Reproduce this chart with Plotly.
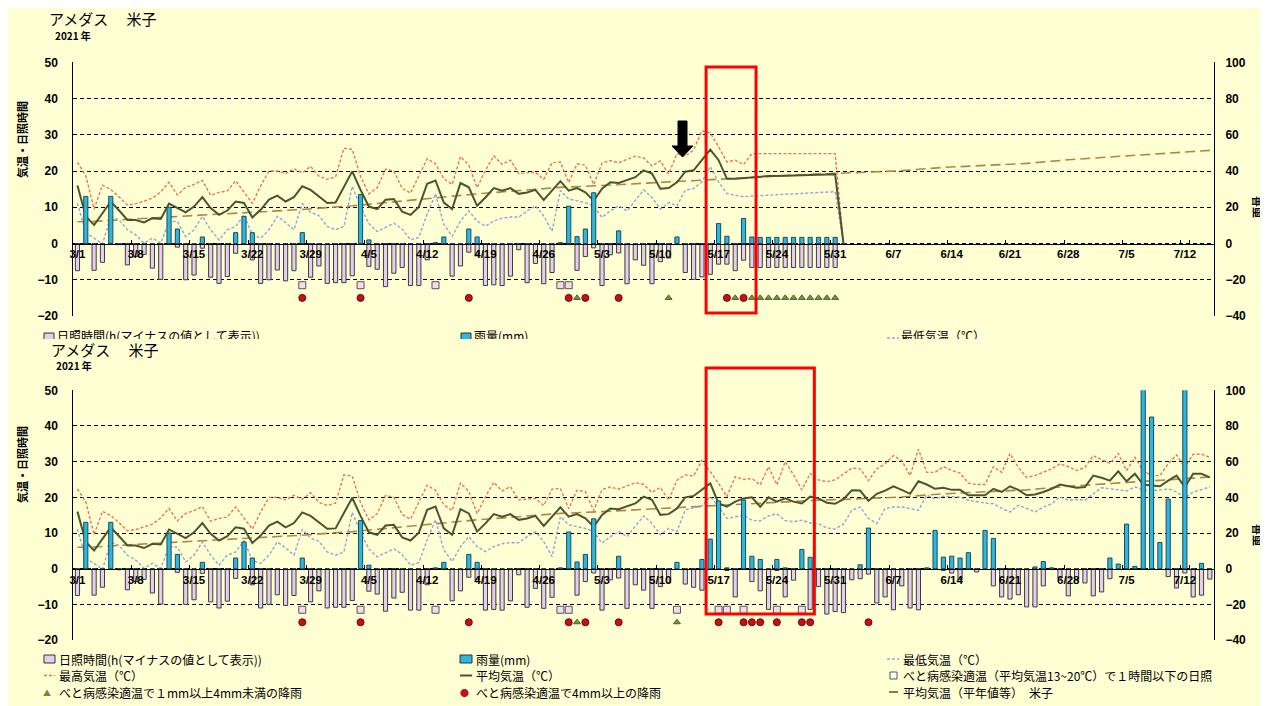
import pandas as pd
import plotly.graph_objects as go

# ---------------- categories ----------------
dates = [f"{d.month}/{d.day}" for d in pd.date_range("2021-03-01", "2021-07-15", freq="D")]
tick_labels = ["3/1", "3/8", "3/15", "3/22", "3/29", "4/5", "4/12", "4/19", "4/26", "5/3",
               "5/10", "5/17", "5/24", "5/31", "6/7", "6/14", "6/21", "6/28", "7/5", "7/12"]

# ---------------- daily data (3/1 - 7/15), bottom chart ----------------
max_temp = [
    # March
    22.4, 18.7, 9.5, 16.1, 14.9, 12.9, 10.6, 11.0, 11.7, 12.5, 14.2, 16.9, 13.4, 15.5, 16.3, 17.4,
    13.3, 14.1, 14.5, 17.3, 14.2, 11.1, 15.9, 20.0, 20.0, 19.3, 20.6, 19.5, 21.3, 18.6, 17.7,
    # April
    18.4, 26.3, 26.0, 18.5, 13.7, 15.4, 20.5, 20.0, 15.2, 13.9, 18.5, 23.4, 22.0, 17.9, 16.3,
    24.0, 21.6, 15.4, 20.2, 24.2, 21.8, 23.0, 19.3, 19.4, 19.7, 17.7, 22.3, 22.5, 16.8, 22.0,
    # May
    21.6, 16.3, 22.2, 22.9, 22.3, 23.2, 24.1, 23.6, 21.4, 22.8, 19.2, 24.8, 26.3, 26.0, 30.3, 27.2,
    23.9, 20.2, 25.8, 25.0, 25.3, 23.5, 28.6, 23.5, 30.0, 26.3, 22.1, 26.7, 24.9, 24.4, 24.9,
    # June
    26.5, 28.2, 28.0, 24.7, 28.0, 29.4, 31.7, 30.3, 26.1, 33.5, 27.0, 27.0, 28.6, 27.5, 26.8,
    24.0, 23.6, 23.6, 28.6, 27.0, 32.3, 28.4, 25.6, 26.1, 27.0, 28.0, 29.4, 28.6, 27.5, 28.4,
    # July
    31.7, 30.7, 29.5, 32.3, 27.5, 31.2, 27.5, 26.1, 26.1, 29.4, 31.9, 28.4, 32.1, 32.1, 31.2,
]
mean_temp = [
    16.0, 7.5, 5.1, 8.4, 11.6, 9.1, 6.5, 6.5, 5.8, 7.0, 6.8, 11.0, 9.8, 8.6, 10.2, 12.8,
    9.8, 7.9, 9.1, 11.6, 11.2, 7.2, 9.3, 12.1, 13.2, 11.6, 12.8, 15.8, 14.8, 13.0, 11.2,
    11.3, 15.8, 19.9, 14.8, 10.2, 9.5, 12.1, 12.3, 8.8, 7.9, 10.1, 16.5, 17.4, 11.3, 9.5,
    16.7, 15.5, 10.4, 12.7, 15.3, 14.6, 15.3, 13.7, 14.1, 14.8, 12.0, 14.6, 17.2, 14.6, 15.3,
    14.1, 11.8, 15.1, 16.9, 16.7, 17.6, 18.3, 20.2, 19.3, 15.1, 15.3, 16.9, 20.0, 20.4, 22.2, 23.9,
    18.3, 17.4, 18.8, 19.7, 20.0, 17.4, 20.0, 18.8, 19.7, 18.8, 18.3, 20.2, 19.7, 18.5, 18.2,
    19.5, 22.0, 21.9, 19.0, 21.0, 21.9, 23.1, 22.1, 21.0, 24.5, 23.6, 22.4, 22.7, 22.1, 22.1,
    20.6, 20.7, 20.6, 22.4, 21.5, 23.1, 22.1, 20.6, 20.8, 21.5, 22.4, 23.6, 23.1, 22.7, 22.9,
    26.1, 25.5, 24.7, 27.3, 24.5, 26.6, 23.6, 23.3, 23.1, 24.7, 26.1, 22.9, 26.6, 26.6, 25.6,
]
min_temp = [
    11.1, 2.9, 1.5, -0.2, 7.5, 6.5, 3.8, 2.4, 0.1, 1.5, 0.1, 6.1, 6.1, 1.9, 3.8, 7.5,
    3.8, 1.0, 3.8, 4.7, 7.9, 2.4, 1.5, 3.8, 7.5, 5.8, 3.8, 11.0, 8.6, 7.7, 4.7,
    3.8, 4.7, 15.8, 10.2, 5.5, 3.3, 4.4, 5.6, 4.0, 1.0, 1.7, 8.1, 13.7, 5.3, 2.0,
    6.2, 9.0, 6.2, 4.8, 6.2, 7.0, 7.3, 7.3, 9.0, 10.4, 7.6, 3.4, 14.6, 12.3, 11.8,
    11.3, 10.4, 7.2, 9.0, 10.4, 9.0, 11.8, 14.8, 12.7, 9.5, 11.3, 10.4, 16.5, 17.0, 17.6, 20.2,
    17.4, 14.1, 14.6, 15.0, 13.6, 13.4, 14.8, 15.4, 13.5, 13.2, 13.6, 12.8, 12.6, 11.4, 11.1,
    12.5, 16.4, 17.3, 14.1, 12.7, 16.9, 17.3, 17.3, 16.9, 16.4, 20.6, 19.6, 20.3, 20.1, 20.1,
    19.2, 18.7, 18.4, 18.2, 16.9, 15.9, 17.8, 16.9, 15.9, 17.3, 18.2, 20.1, 19.2, 19.4, 19.2,
    21.0, 22.7, 22.4, 22.1, 21.8, 22.9, 22.1, 21.8, 22.1, 22.4, 21.5, 19.9, 21.5, 22.1, 22.9,
]
sunshine_h = [
    7.5, 0, 7.4, 5.2, 0, 0.3, 5.9, 3.6, 3.0, 6.8, 9.9, 0, 1.0, 10.0, 8.7, 1.3,
    9.3, 11.0, 9.1, 2.7, 0, 4.5, 11.0, 10.0, 7.3, 10.3, 7.5, 0, 9.3, 6.2, 11.0,
    10.8, 10.8, 8.9, 0, 6.3, 7.1, 11.9, 8.2, 6.6, 11.6, 11.6, 4.5, 0, 0, 9.0,
    6.2, 2.4, 3.1, 11.6, 11.4, 11.6, 9.0, 1.7, 10.8, 5.5, 11.1, 8.0, 0, 0, 7.4,
    3.6, 1.2, 11.6, 3.1, 2.6, 11.1, 4.5, 6.0, 11.1, 5.0, 4.0, 0, 4.3, 5.2, 6.0, 0,
    0, 0.5, 7.9, 0, 3.6, 6.2, 11.4, 0.5, 7.9, 3.2, 0, 11.4, 5.0, 12.7, 12.0,
    12.3, 3.1, 2.8, 1.5, 9.6, 7.9, 11.5, 4.8, 11.0, 11.5, 0, 0, 0.5, 1.2, 3.1,
    0, 0.9, 0, 4.8, 7.9, 8.5, 7.3, 10.7, 10.7, 4.8, 0, 2.6, 7.6, 3.1, 4.0,
    7.6, 6.5, 2.8, 0, 0, 0, 0, 0, 0, 2.2, 5.4, 1.2, 7.9, 7.4, 2.9,
]
rain_mm = [
    0, 26, 0, 0, 26, 0, 0, 0, 0, 0, 0, 20, 8, 0, 0, 3.6,
    0, 0, 0, 6, 15, 6, 0, 0, 0, 0, 0, 6, 0, 0, 0,
    0, 0, 0, 27, 2, 0, 0, 0, 0, 0, 0, 0, 0.5, 3.6, 0,
    0, 8, 3.6, 0, 0, 0, 0, 0, 0, 0, 0, 0, 0.5, 20.6, 3.8,
    8, 28, 0, 0, 7, 0, 0, 0, 0, 0, 0, 3.6, 0, 0, 5.2, 16.6,
    38, 0.5, 0, 38.5, 7, 5.2, 0, 5.2, 0.5, 0, 10.8, 6.4, 0, 0, 0,
    0, 0, 2.2, 22.8, 0, 0, 0, 0, 0, 0, 0.5, 21.5, 6.5, 7, 6,
    9, 0, 21.5, 17, 0, 0, 0, 0, 1, 4, 0.5, 0, 0, 0, 0,
    0, 0, 6, 2.6, 25, 1.3, 110, 85, 14.7, 39, 0, 105, 0, 3, 0,
]

# normal mean temperature (semi-monthly steps)
normal_dates = ["3/1", "3/3", "3/8", "3/13", "3/18", "3/23", "3/28", "4/3", "4/8", "4/13", "4/18",
                "4/23", "4/28", "5/3", "5/8", "5/13", "5/18", "5/23", "5/28", "6/3", "6/8", "6/13",
                "6/18", "6/23", "6/28", "7/3", "7/8", "7/13", "7/15"]
normal_temp = [6.0, 6.1, 6.8, 7.4, 8.0, 8.6, 9.4, 10.4, 11.6, 12.6, 13.7,
               14.6, 15.5, 16.0, 16.6, 17.1, 17.7, 18.4, 19.1, 19.6, 20.1, 21.0,
               21.6, 22.1, 23.1, 23.8, 24.5, 25.4, 25.7]

# flag markers (bottom chart)
bottom_square_dates = ["3/28", "4/4", "4/13", "4/28", "4/29", "5/12", "5/17", "5/18", "5/20", "5/24", "5/27"]
bottom_circle_dates = ["3/28", "4/4", "4/17", "4/29", "5/1", "5/5", "5/17", "5/20", "5/21", "5/22",
                       "5/24", "5/27", "5/28", "6/4"]
bottom_triangle_dates = ["4/30", "5/12"]

# ---------------- top chart (preliminary data, ends 6/1) ----------------
top_tail_start = "5/13"
top_max_tail = [24.1, 25.8, 31.1, 30.5, 26.7, 22.5, 23.0, 21.8,
                24.8, 24.8, 24.8, 24.8, 24.8, 24.8, 24.8, 24.8, 24.8, 24.8, 24.8, 0]
top_mean_tail = [19.8, 20.2, 23.0, 25.9, 23.0, 17.9, 17.9, 18.1,
                 18.4, 18.5, 18.6, 18.6, 18.7, 18.8, 18.8, 18.9, 19.0, 19.0, 19.1, 0]
top_min_tail = [14.7, 15.2, 17.0, 21.2, 17.0, 13.8, 13.3, 12.9,
                13.1, 13.2, 13.3, 13.4, 13.5, 13.6, 13.7, 13.8, 13.9, 14.1, 14.3, 0]
top_sun_tail = [8.0, 9.9, 9.2, 8.5, 5.7, 5.7, 7.5, 4.6,
                6.6, 6.6, 6.6, 6.6, 6.6, 6.6, 6.6, 6.6, 6.6, 6.6, 6.6, 0]
top_rain_tail = [0, 0, 0, 0, 11, 4, 0, 13.8,
                 3.6, 3.4, 3.4, 3.4, 3.4, 3.4, 3.4, 3.4, 3.4, 3.4, 3.4, 0]
top_square_dates = ["3/28", "4/4", "4/13", "4/28", "4/29"]
top_circle_dates = ["3/28", "4/4", "4/17", "4/29", "5/1", "5/5", "5/18", "5/20"]
top_triangle_dates = ["4/30", "5/11", "5/19", "5/21", "5/22", "5/23", "5/24", "5/25", "5/26",
                      "5/27", "5/28", "5/29", "5/30", "5/31"]

SQUARE_LEVEL, CIRCLE_LEVEL, TRIANGLE_LEVEL = -11.5, -15.0, -15.0

k = dates.index(top_tail_start)
top_max = max_temp[:k] + top_max_tail
top_mean = mean_temp[:k] + top_mean_tail
top_min = min_temp[:k] + top_min_tail
top_sun = sunshine_h[:k] + top_sun_tail
top_rain = rain_mm[:k] + top_rain_tail
top_dates = dates[:len(top_max)]

top_box = ("5/16", "5/21")
bottom_box = ("5/16", "5/28")

# ---------------- styling ----------------
# the page body keeps its default 8px margin (white border, as in the reference)
OX, OY = 8, 8
W, H = 1260, 698
JP = "Noto Sans CJK JP"
NUM = "Liberation Sans, Arial"
BG = "#FFFFD4"
SUN_FILL, SUN_LINE = "#E6CEEE", "#3C3C3C"
RAIN_FILL, RAIN_LINE = "#2BB7E0", "#1B4B5A"
MAX_C, MIN_C, MEAN_C, NORM_C = "#F0705A", "#8EA6DC", "#4A5530", "#B0844A"
LEG = 12


def px(x):
    return (x - OX) / W


def py(y):
    return 1 - (y - OY) / H


X_DOM = [px(73.3), px(1214)]
TOP_DOM = [py(316), py(62.3)]
BOT_DOM = [py(640.1), py(390.3)]

fig = go.Figure()


def add_panel(xa, ya, ya2, x, tmax, tmean, tmin, sun, rn, sq, ci, tr):
    fig.add_trace(go.Bar(x=x, y=[-v for v in sun], xaxis=xa, yaxis=ya, width=0.5,
                         marker=dict(color=SUN_FILL, line=dict(color=SUN_LINE, width=1))))
    fig.add_trace(go.Scatter(x=normal_dates, y=normal_temp, xaxis=xa, yaxis=ya, mode="lines",
                             line=dict(color=NORM_C, width=1.6, dash="10px,5px")))
    fig.add_trace(go.Scatter(x=x, y=tmax, xaxis=xa, yaxis=ya, mode="lines",
                             line=dict(color=MAX_C, width=1.4, dash="3px,2px")))
    fig.add_trace(go.Scatter(x=x, y=tmin, xaxis=xa, yaxis=ya, mode="lines",
                             line=dict(color=MIN_C, width=1.4, dash="3px,2px")))
    fig.add_trace(go.Scatter(x=x, y=tmean, xaxis=xa, yaxis=ya, mode="lines",
                             line=dict(color=MEAN_C, width=2)))
    fig.add_trace(go.Scatter(x=sq, y=[SQUARE_LEVEL] * len(sq), xaxis=xa, yaxis=ya, mode="markers",
                             marker=dict(symbol="square", size=7, color="#F6DCEA",
                                         line=dict(color="#555555", width=1))))
    fig.add_trace(go.Scatter(x=ci, y=[CIRCLE_LEVEL] * len(ci), xaxis=xa, yaxis=ya, mode="markers",
                             marker=dict(symbol="circle", size=7, color="#C3101C",
                                         line=dict(color="#7A0000", width=1))))
    fig.add_trace(go.Scatter(x=tr, y=[TRIANGLE_LEVEL] * len(tr), xaxis=xa, yaxis=ya, mode="markers",
                             marker=dict(symbol="triangle-up", size=6, color="#7A9440",
                                         line=dict(color="#4A5E28", width=1))))
    fig.add_trace(go.Bar(x=x, y=rn, xaxis=xa, yaxis=ya2, width=0.5,
                         marker=dict(color=RAIN_FILL, line=dict(color=RAIN_LINE, width=1))))


add_panel("x", "y", "y2", top_dates, top_max, top_mean, top_min, top_sun, top_rain,
          top_square_dates, top_circle_dates, top_triangle_dates)
add_panel("x2", "y3", "y4", dates, max_temp, mean_temp, min_temp, sunshine_h, rain_mm,
          bottom_square_dates, bottom_circle_dates, bottom_triangle_dates)

# clipped legend strip of the top chart (cut off in the reference)
strip_y = 338
fig.add_trace(go.Scatter(x=[57, 474, 901], y=[strip_y] * 3, xaxis="x3", yaxis="y5", mode="text",
                         text=["日照時間(h(マイナスの値として表示))", "雨量(mm)", "最低気温（℃）"],
                         textposition="middle right", cliponaxis=True,
                         textfont=dict(family=JP, size=LEG, color="black")))
fig.add_trace(go.Scatter(x=[49, 466], y=[strip_y] * 2, xaxis="x3", yaxis="y5", mode="markers",
                         cliponaxis=True,
                         marker=dict(symbol="square", size=10, color=[SUN_FILL, RAIN_FILL],
                                     line=dict(color="#333333", width=1))))
fig.add_trace(go.Scatter(x=[887, 899], y=[strip_y] * 2, xaxis="x3", yaxis="y5", mode="lines",
                         cliponaxis=True, line=dict(color=MIN_C, width=1.4, dash="3px,2px")))


def xaxis_cfg(pos):
    return dict(domain=X_DOM, type="category", categoryorder="array", categoryarray=dates,
                range=[-0.5, len(dates) - 0.5], anchor="free", position=pos,
                tickmode="array", tickvals=tick_labels, ticktext=tick_labels, tickangle=0,
                tickson="boundaries", ticks="inside", ticklen=4, tickcolor="black",
                showline=True, linecolor="black", linewidth=1, showgrid=False, zeroline=False,
                tickfont=dict(family=NUM, size=11.5, color="black", weight="bold"), fixedrange=True)


def yleft(dom, xa):
    return dict(domain=dom, anchor=xa, range=[-20, 50], tickmode="linear", tick0=-20, dtick=10,
                showgrid=True, gridcolor="black", gridwidth=1, griddash="4px,3px", zeroline=False,
                showline=True, linecolor="black", linewidth=1, ticks="", ticklabelstandoff=12,
                tickfont=dict(family=NUM, size=12, color="black", weight="bold"), fixedrange=True)


def yright(over, xa):
    return dict(overlaying=over, anchor=xa, side="right", range=[-40, 100], tickmode="linear",
                tick0=-40, dtick=20, showgrid=False, zeroline=False, showline=True,
                linecolor="black", linewidth=1, ticks="", ticklabelstandoff=8,
                tickfont=dict(family=NUM, size=12, color="black", weight="bold"), fixedrange=True)


def txt(x, y, s, size=LEG, bold=False, angle=0, xanchor="left", color="black", family=JP):
    return dict(xref="paper", yref="paper", x=px(x), y=py(y), text=s, showarrow=False,
                xanchor=xanchor, yanchor="middle", textangle=angle,
                font=dict(family=family, size=size, color=color, weight="bold" if bold else "normal"))


annotations = [
    txt(47, 19, "アメダス　 米子", size=15),
    txt(53, 35.5, "2021 年", size=10, bold=True),
    txt(49, 349, "アメダス　 米子", size=15),
    txt(54, 365.5, "2021 年", size=10, bold=True),
    txt(22, 140, "気温・日照時間", size=11, bold=True, angle=-90, xanchor="center"),
    txt(22, 465, "気温・日照時間", size=11, bold=True, angle=-90, xanchor="center"),
    txt(1257, 207, "雨量", size=11, bold=True, angle=-90, xanchor="center"),
    txt(1257, 535, "雨量", size=11, bold=True, angle=-90, xanchor="center"),
    # bottom legend
    txt(57, 659, "日照時間(h(マイナスの値として表示))"),
    txt(474, 659, "雨量(mm)"),
    txt(901, 659, "最低気温（℃）"),
    txt(57, 675.5, "最高気温（℃）"),
    txt(474, 675.5, "平均気温（℃）"),
    txt(901, 675.5, "べと病感染適温（平均気温13~20℃）で１時間以下の日照"),
    txt(47, 692, "▲", size=8, color="#6E8B3D", xanchor="center"),
    txt(57, 692, "べと病感染適温で１mm以上4mm未満の降雨"),
    txt(464, 692, "●", size=9, color="#C3101C", xanchor="center"),
    txt(474, 692, "べと病感染適温で4mm以上の降雨"),
    txt(901, 692, "平均気温（平年値等）　米子"),
]


def rect_px(x0, y0, x1, y1, fill, line, lw=1):
    return dict(type="rect", xref="paper", yref="paper", x0=px(x0), x1=px(x1), y0=py(y1), y1=py(y0),
                fillcolor=fill, line=dict(color=line, width=lw))


def line_px(x0, x1, y, color, dash="solid", width=1.4):
    return dict(type="line", xref="paper", yref="paper", x0=px(x0), x1=px(x1), y0=py(y), y1=py(y),
                line=dict(color=color, width=width, dash=dash))


def red_box(xa, span, y_top, y_bot):
    return dict(type="rect", xref=xa, yref="paper",
                x0=dates.index(span[0]) - 0.5, x1=dates.index(span[1]) + 0.5,
                y0=py(y_bot), y1=py(y_top), line=dict(color="#FF0000", width=3),
                fillcolor="rgba(0,0,0,0)", layer="above")


arrow_pts = [(678, 121), (687, 121), (687, 146), (693, 146), (682.5, 157), (672, 146), (678, 146)]
arrow_path = "M " + " L ".join(f"{px(a):.5f} {py(b):.5f}" for a, b in arrow_pts) + " Z"

shapes = [
    rect_px(44, 655, 55, 663, SUN_FILL, "#333333"),
    rect_px(460, 655, 472, 663, RAIN_FILL, "#333333"),
    line_px(887, 899, 659, MIN_C, dash="3px,2px"),
    line_px(44, 55, 675.5, MAX_C, dash="3px,2px"),
    line_px(460, 472, 675.5, MEAN_C, width=2),
    rect_px(890, 672, 897, 679, "white", "#555555"),
    line_px(889, 898, 692, "#6B5A3A", width=1.6),
    red_box("x", top_box, 67, 313),
    red_box("x2", bottom_box, 368, 614),
    dict(type="path", xref="paper", yref="paper", path=arrow_path, fillcolor="black",
         line=dict(color="black", width=1), layer="above"),
]

fig.update_layout(
    width=W, height=H, margin=dict(l=0, r=0, t=0, b=0, autoexpand=False),
    paper_bgcolor=BG, plot_bgcolor="rgba(0,0,0,0)", barmode="overlay", showlegend=False,
    xaxis=xaxis_cfg(py(243.5)), yaxis=yleft(TOP_DOM, "x"), yaxis2=yright("y", "x"),
    xaxis2=xaxis_cfg(py(568.7)), yaxis3=yleft(BOT_DOM, "x2"), yaxis4=yright("y3", "x2"),
    xaxis3=dict(domain=[0, 1], range=[OX, OX + W], visible=False, anchor="y5", fixedrange=True),
    yaxis5=dict(domain=[py(339), py(328)], range=[339, 328], visible=False, anchor="x3",
                fixedrange=True),
    annotations=annotations, shapes=shapes,
)

fig.write_html("out.html")
